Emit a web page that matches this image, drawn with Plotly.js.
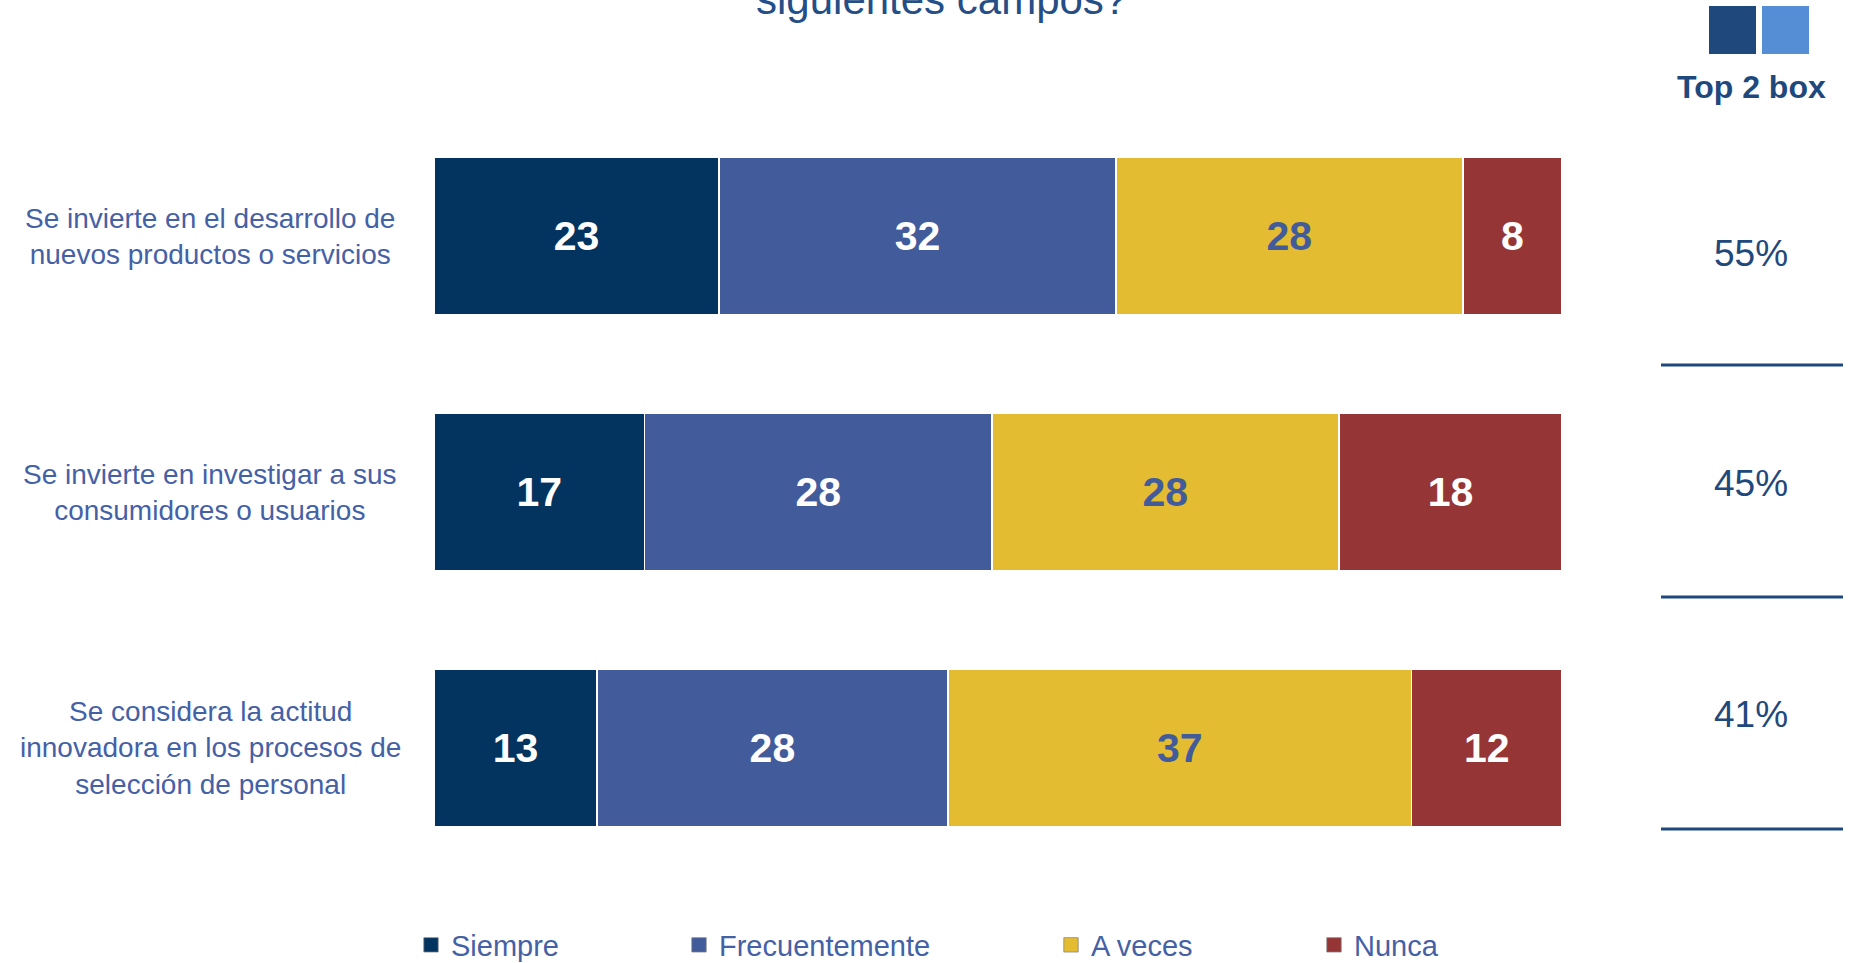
<!DOCTYPE html>
<html>
<head>
<meta charset="utf-8">
<script src="https://cdn.plot.ly/plotly-3.0.1.min.js"></script>
<style>html,body{margin:0;padding:0;background:#fff;}#chart{width:1851px;height:963px;}</style>
</head>
<body>
<div id="chart"></div>
<script>
// ---- data ----
const categories = [
  "Se invierte en el desarrollo de<br>nuevos productos o servicios",
  "Se invierte en investigar a sus<br>consumidores o usuarios",
  "Se considera la actitud<br>innovadora en los procesos de<br>selección de personal"
];
const seriesNames = ["Siempre", "Frecuentemente", "A veces", "Nunca"];
const siempre = [23, 17, 13];
const frecuentemente = [32, 28, 28];
const aVeces = [28, 28, 37];
const nunca = [8, 18, 12];
const top2box = [55, 45, 41];
const titleText = "siguientes campos?";
const top2Label = "Top 2 box";

// ---- styles ----
const W = 1851, H = 963;
const M = {l: 434, r: 289, t: 108, b: 87};
const PW = W - M.l - M.r, PH = H - M.t - M.b;
const colors = ["#03335F", "#425B9B", "#E3BC31", "#963535"];
const labelColors = ["#FFFFFF", "#FFFFFF", "#425B9B", "#FFFFFF"];
const textBlue = "#4561A6";
const darkBlue = "#1F497D";
const FONT = "Liberation Sans, Arial, sans-serif";

function px(x) { return (x - M.l) / PW; }
function py(y) { return 1 - (y - M.t) / PH; }

const allSeries = [siempre, frecuentemente, aVeces, nunca];
const legendNames = ["legend", "legend2", "legend3", "legend4"];
const legendPx = [411, 679, 1051, 1314];

const traces = allSeries.map((vals, i) => ({
  type: "bar",
  orientation: "h",
  name: seriesNames[i],
  y: categories,
  x: vals,
  text: vals.map(String),
  textposition: "inside",
  insidetextanchor: "middle",
  textangle: 0,
  constraintext: "none",
  textfont: {family: FONT, size: 41, color: labelColors[i], weight: "bold"},
  marker: {color: colors[i], line: {color: "#FFFFFF", width: 1.5}},
  legend: legendNames[i],
  hoverinfo: "name+x"
}));

const annotations = [];
// category labels
categories.forEach((c, i) => {
  annotations.push({
    xref: "paper", yref: "y", x: px(210), y: c, text: c,
    showarrow: false, xanchor: "center", yanchor: "middle", align: "center",
    font: {family: FONT, size: 28, color: textBlue}
  });
});
// title (partially visible)
annotations.push({
  xref: "paper", yref: "paper", x: px(941), y: py(-1), text: titleText,
  showarrow: false, xanchor: "center", yanchor: "middle",
  font: {family: FONT, size: 42, color: "#254E87"}
});
// top 2 box header
annotations.push({
  xref: "paper", yref: "paper", x: px(1751), y: py(87), text: "<b>" + top2Label + "</b>",
  showarrow: false, xanchor: "center", yanchor: "middle",
  font: {family: FONT, size: 32, color: darkBlue}
});
const top2Y = [253, 483, 714];
const lineY = [365, 597, 829];
top2box.forEach((v, i) => {
  annotations.push({
    xref: "paper", yref: "paper", x: px(1751), y: py(top2Y[i]), text: v + "%",
    showarrow: false, xanchor: "center", yanchor: "middle",
    font: {family: FONT, size: 37, color: darkBlue}
  });
});

const shapes = [
  {type: "rect", xref: "paper", yref: "paper", x0: px(1709), x1: px(1756), y0: py(6), y1: py(54),
   fillcolor: "#1F497D", line: {width: 0}},
  {type: "rect", xref: "paper", yref: "paper", x0: px(1762), x1: px(1809), y0: py(6), y1: py(54),
   fillcolor: "#558ED5", line: {width: 0}}
];
lineY.forEach(y => shapes.push({
  type: "line", xref: "paper", yref: "paper", x0: px(1661), x1: px(1843), y0: py(y), y1: py(y),
  line: {color: darkBlue, width: 3}
}));

const layout = {
  width: W, height: H,
  margin: M,
  paper_bgcolor: "#FFFFFF", plot_bgcolor: "#FFFFFF",
  barmode: "stack",
  barnorm: "percent",
  bargap: 0.383,
  xaxis: {range: [0, 100], showgrid: false, zeroline: false, showticklabels: false, ticks: "", showline: false, fixedrange: true},
  yaxis: {type: "category", autorange: "reversed", showgrid: false, zeroline: false, showticklabels: false, ticks: "", showline: false, fixedrange: true},
  font: {family: FONT, color: textBlue},
  annotations: annotations,
  shapes: shapes,
  showlegend: true
};
legendNames.forEach((ln, i) => {
  layout[ln] = {
    orientation: "h", xref: "container", yref: "container",
    x: legendPx[i] / W, xanchor: "left", y: 1 - 945 / H, yanchor: "middle",
    font: {family: FONT, size: 29, color: textBlue},
    bgcolor: "rgba(0,0,0,0)", borderwidth: 0, itemwidth: 30, traceorder: "normal"
  };
});

Plotly.newPlot("chart", traces, layout, {displayModeBar: false, staticPlot: true}).then(gd => {
  // enlarge legend squares slightly to match reference
  gd.querySelectorAll(".legendpoints path").forEach(p => {
    const t = p.getAttribute("transform") || "";
    p.setAttribute("transform", t + " scale(1.2)");
    p.style.stroke = "#7F7F7F";
    p.style.strokeWidth = "0.6px";
  });
});
</script>
</body>
</html>
